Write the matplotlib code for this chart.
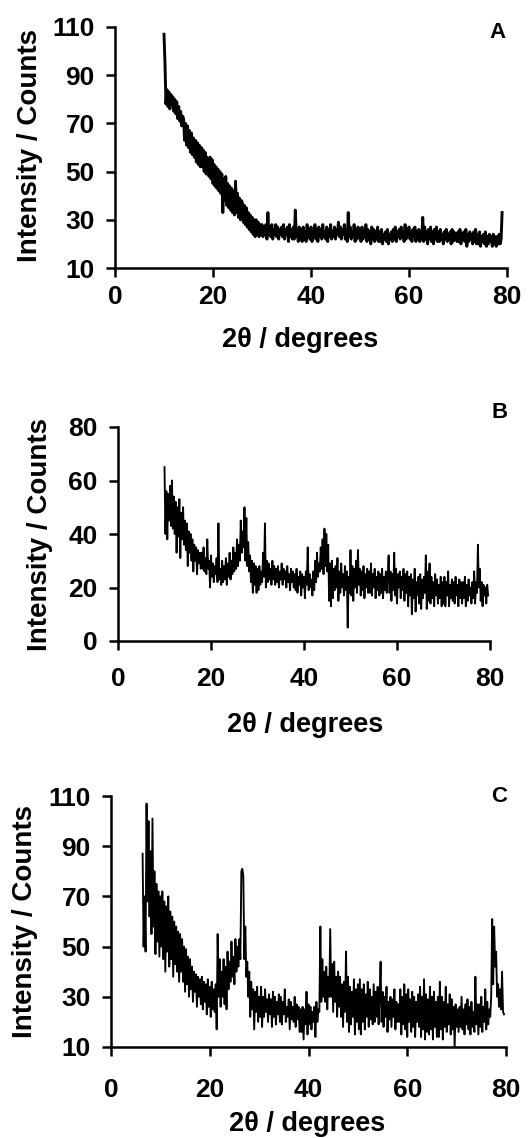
import matplotlib
matplotlib.use("Agg")
import matplotlib.pyplot as plt
import numpy as np

plt.rcParams['font.family'] = ['Liberation Sans', 'DejaVu Sans']
plt.rcParams['font.weight'] = 'bold'

# 2theta grids (step 0.2 deg)
two_theta_a = np.round(10.0 + 0.2 * np.arange(346), 1)
two_theta_b = np.round(10.0 + 0.2 * np.arange(349), 1)
two_theta_c = np.round(6.4 + 0.2 * np.arange(367), 1)

# counts, one row = 4 degrees
counts_a = [
    107, 95, 78, 84, 77, 83, 76, 82, 78, 81, 75, 80, 74, 79, 72, 77, 71, 75, 69, 73,
    72, 63, 70, 61, 69, 60, 67, 58, 66, 57, 64, 56, 63, 54, 62, 53, 61, 52, 60, 52,
    59, 50, 58, 49, 56, 51, 48, 56, 47, 55, 45, 53, 44, 52, 43, 51, 42, 50, 41, 49,
    33, 47, 38, 48, 36, 45, 35, 44, 34, 43, 33, 42, 32, 46, 33, 41, 31, 39, 30, 38,
    37, 29, 36, 28, 35, 27, 33, 26, 32, 25, 31, 24, 30, 23, 30, 24, 29, 23, 28, 24,
    28, 23, 27, 24, 28, 22, 33, 24, 27, 23, 28, 22, 26, 24, 28, 23, 27, 22, 26, 24,
    27, 23, 28, 22, 26, 24, 27, 21, 28, 23, 26, 22, 27, 22, 34, 23, 26, 21, 27, 22,
    26, 21, 27, 22, 25, 21, 28, 23, 26, 22, 27, 21, 25, 23, 28, 22, 26, 21, 27, 23,
    26, 22, 28, 23, 25, 22, 27, 21, 26, 23, 28, 22, 25, 23, 27, 22, 26, 24, 29, 23,
    27, 22, 26, 24, 28, 22, 26, 21, 33, 23, 27, 22, 25, 23, 28, 21, 26, 22, 27, 23,
    26, 21, 27, 22, 25, 23, 28, 21, 26, 22, 25, 20, 27, 22, 26, 21, 25, 22, 27, 21,
    25, 21, 26, 20, 24, 22, 25, 21, 26, 20, 24, 22, 25, 21, 26, 22, 27, 21, 25, 23,
    26, 22, 27, 23, 25, 21, 28, 22, 26, 24, 27, 22, 25, 21, 26, 23, 27, 21, 25, 22,
    26, 21, 25, 22, 31, 21, 27, 22, 25, 20, 26, 22, 27, 21, 25, 20, 26, 22, 27, 21,
    25, 21, 26, 22, 24, 20, 25, 22, 26, 21, 24, 22, 25, 20, 26, 21, 25, 22, 24, 21,
    25, 21, 26, 20, 24, 22, 25, 21, 26, 19, 24, 21, 25, 22, 24, 20, 25, 21, 26, 20,
    24, 20, 25, 19, 23, 21, 24, 20, 25, 19, 23, 20, 24, 21, 23, 19, 24, 20, 23, 19,
    23, 20, 24, 20, 22, 33,
]

counts_b = [
    65, 40, 56, 38, 55, 45, 58, 43, 60, 42, 54, 40, 52, 33, 50, 39, 53, 31, 48, 38,
    50, 36, 45, 34, 44, 28, 41, 33, 40, 30, 38, 26, 36, 30, 35, 25, 34, 29, 33, 27,
    33, 27, 35, 26, 31, 25, 38, 27, 30, 20, 32, 24, 29, 22, 28, 25, 31, 22, 44, 23,
    27, 21, 30, 22, 28, 23, 31, 21, 29, 24, 33, 23, 30, 25, 35, 26, 33, 27, 38, 28,
    36, 30, 45, 33, 41, 35, 50, 30, 46, 28, 37, 26, 32, 22, 30, 18, 29, 21, 28, 18,
    27, 19, 28, 21, 26, 22, 33, 24, 44, 20, 30, 22, 29, 23, 27, 21, 30, 23, 28, 21,
    27, 22, 28, 20, 26, 23, 29, 21, 27, 23, 26, 20, 28, 22, 25, 19, 27, 22, 26, 20,
    25, 19, 27, 18, 24, 21, 26, 17, 25, 20, 24, 16, 26, 21, 35, 19, 25, 20, 23, 17,
    26, 19, 30, 22, 33, 24, 29, 26, 35, 27, 38, 25, 42, 28, 40, 26, 36, 15, 29, 13,
    30, 16, 27, 19, 28, 20, 31, 15, 26, 18, 29, 20, 25, 17, 28, 19, 26, 5, 24, 18,
    34, 17, 28, 15, 27, 20, 30, 18, 34, 21, 27, 17, 26, 19, 28, 16, 25, 20, 27, 18,
    26, 18, 29, 17, 25, 20, 27, 16, 24, 19, 26, 17, 25, 18, 27, 16, 24, 19, 26, 18,
    24, 32, 18, 26, 15, 25, 19, 33, 17, 27, 14, 25, 20, 26, 16, 24, 19, 27, 15, 25,
    18, 26, 13, 24, 17, 25, 10, 23, 16, 27, 11, 22, 17, 24, 14, 25, 12, 23, 16, 24,
    18, 32, 12, 26, 15, 29, 14, 24, 16, 22, 13, 25, 17, 23, 14, 21, 16, 24, 13, 22,
    14, 24, 13, 22, 17, 26, 13, 21, 16, 23, 15, 22, 14, 24, 17, 21, 13, 23, 16, 22,
    14, 22, 16, 24, 13, 21, 15, 23, 17, 20, 14, 22, 16, 26, 14, 22, 18, 36, 20, 27,
    15, 22, 13, 21, 17, 20, 14, 21, 17,
]

counts_c = [
    87, 50, 70, 48, 107, 68, 100, 62, 88, 55, 101, 58, 80, 47, 75, 52, 72, 46, 70, 50,
    72, 45, 68, 40, 66, 48, 70, 42, 64, 45, 62, 38, 60, 43, 58, 40, 56, 36, 55, 40,
    53, 36, 50, 32, 49, 35, 46, 30, 45, 33, 42, 28, 40, 32, 39, 26, 38, 30, 37, 27,
    38, 25, 36, 28, 35, 23, 37, 26, 34, 22, 36, 25, 33, 24, 35, 17, 55, 30, 45, 26,
    40, 30, 45, 27, 42, 25, 48, 33, 44, 36, 52, 38, 46, 35, 53, 40, 50, 42, 53, 45,
    80, 81, 78, 45, 58, 38, 44, 30, 40, 22, 36, 25, 33, 17, 32, 24, 34, 20, 30, 22,
    34, 18, 30, 22, 33, 24, 29, 20, 31, 23, 29, 18, 32, 22, 30, 19, 28, 23, 31, 20,
    30, 19, 28, 23, 33, 20, 26, 22, 29, 17, 28, 21, 26, 20, 30, 18, 27, 21, 26, 16,
    25, 16, 26, 13, 25, 19, 32, 15, 27, 19, 26, 17, 24, 20, 26, 14, 28, 20, 25, 24,
    58, 28, 45, 30, 40, 28, 42, 25, 38, 30, 57, 30, 43, 24, 44, 28, 38, 22, 40, 26,
    38, 22, 35, 18, 36, 24, 48, 20, 38, 16, 34, 19, 32, 22, 37, 15, 33, 20, 35, 17,
    37, 15, 33, 20, 35, 17, 31, 22, 36, 18, 33, 21, 30, 19, 35, 20, 32, 22, 34, 19,
    30, 44, 20, 32, 18, 30, 22, 34, 16, 28, 21, 30, 18, 29, 22, 33, 17, 28, 20, 27,
    20, 33, 15, 30, 19, 35, 17, 31, 14, 33, 20, 29, 16, 32, 18, 30, 14, 28, 20, 31,
    18, 34, 14, 30, 17, 37, 13, 31, 16, 29, 15, 34, 17, 30, 13, 32, 18, 28, 14, 30,
    14, 36, 17, 30, 13, 28, 18, 34, 16, 27, 19, 31, 15, 29, 17, 26, 10, 27, 18, 25,
    16, 26, 18, 30, 17, 25, 15, 27, 19, 29, 17, 26, 15, 28, 18, 24, 16, 38, 19, 27,
    15, 27, 18, 30, 16, 26, 20, 33, 17, 28, 19, 25, 22, 30, 61, 35, 58, 42, 48, 30,
    35, 26, 33, 25, 40, 24, 23,
]

ticks_a = [10, 30, 50, 70, 90, 110]
ticks_b = [0, 20, 40, 60, 80]
ticks_c = [10, 30, 50, 70, 90, 110]
x_ticks = [0, 20, 40, 60, 80]

W, H = 529, 1138
fig = plt.figure(figsize=(W / 100, H / 100), dpi=100)


def box(left, right, top, bottom):
    return [left / W, 1 - bottom / H, (right - left) / W, (bottom - top) / H]


def panel(rect, x, y, yticks, letter, letter_xy, ylab_xy, xlab_xy, lw, xpad):
    ax = fig.add_axes(rect)
    ax.plot(x, y, color="black", lw=lw)
    ax.set_xlim(0, 80)
    ax.set_ylim(yticks[0], yticks[-1])
    ax.set_xticks(x_ticks)
    ax.set_yticks(yticks)
    for s in ["top", "right"]:
        ax.spines[s].set_visible(False)
    for s in ["left", "bottom"]:
        ax.spines[s].set_linewidth(1.8)
    ax.tick_params(direction="out", length=6.5, width=1.8, labelsize=19)
    ax.tick_params(axis="y", pad=8)
    ax.tick_params(axis="x", pad=xpad)
    for t in ax.get_xticklabels() + ax.get_yticklabels():
        t.set_fontweight("bold")
    fig.text(letter_xy[0] / W, 1 - letter_xy[1] / H, letter,
             fontsize=16, fontweight="bold", ha="center", va="center")
    fig.text(ylab_xy[0] / W, 1 - ylab_xy[1] / H, "Intensity / Counts",
             fontsize=20, fontweight="bold", rotation=90,
             ha="center", va="center")
    fig.text(xlab_xy[0] / W, 1 - xlab_xy[1] / H, "2θ / degrees",
             fontsize=19.5, fontweight="bold", ha="center", va="center")
    return ax


panel(box(115, 507, 27, 268), two_theta_a, counts_a, ticks_a, "A",
      (497, 33), (30, 145), (300, 340), 2.1, 5.5)
panel(box(118, 490, 427, 641), two_theta_b, counts_b, ticks_b, "B",
      (500, 412), (40, 534), (305, 725), 1.35, 12.5)
panel(box(111, 506, 796, 1047), two_theta_c, counts_c, ticks_c, "C",
      (499, 797), (25, 922), (307, 1124), 1.35, 16)

fig.savefig("out.png", dpi=100)
